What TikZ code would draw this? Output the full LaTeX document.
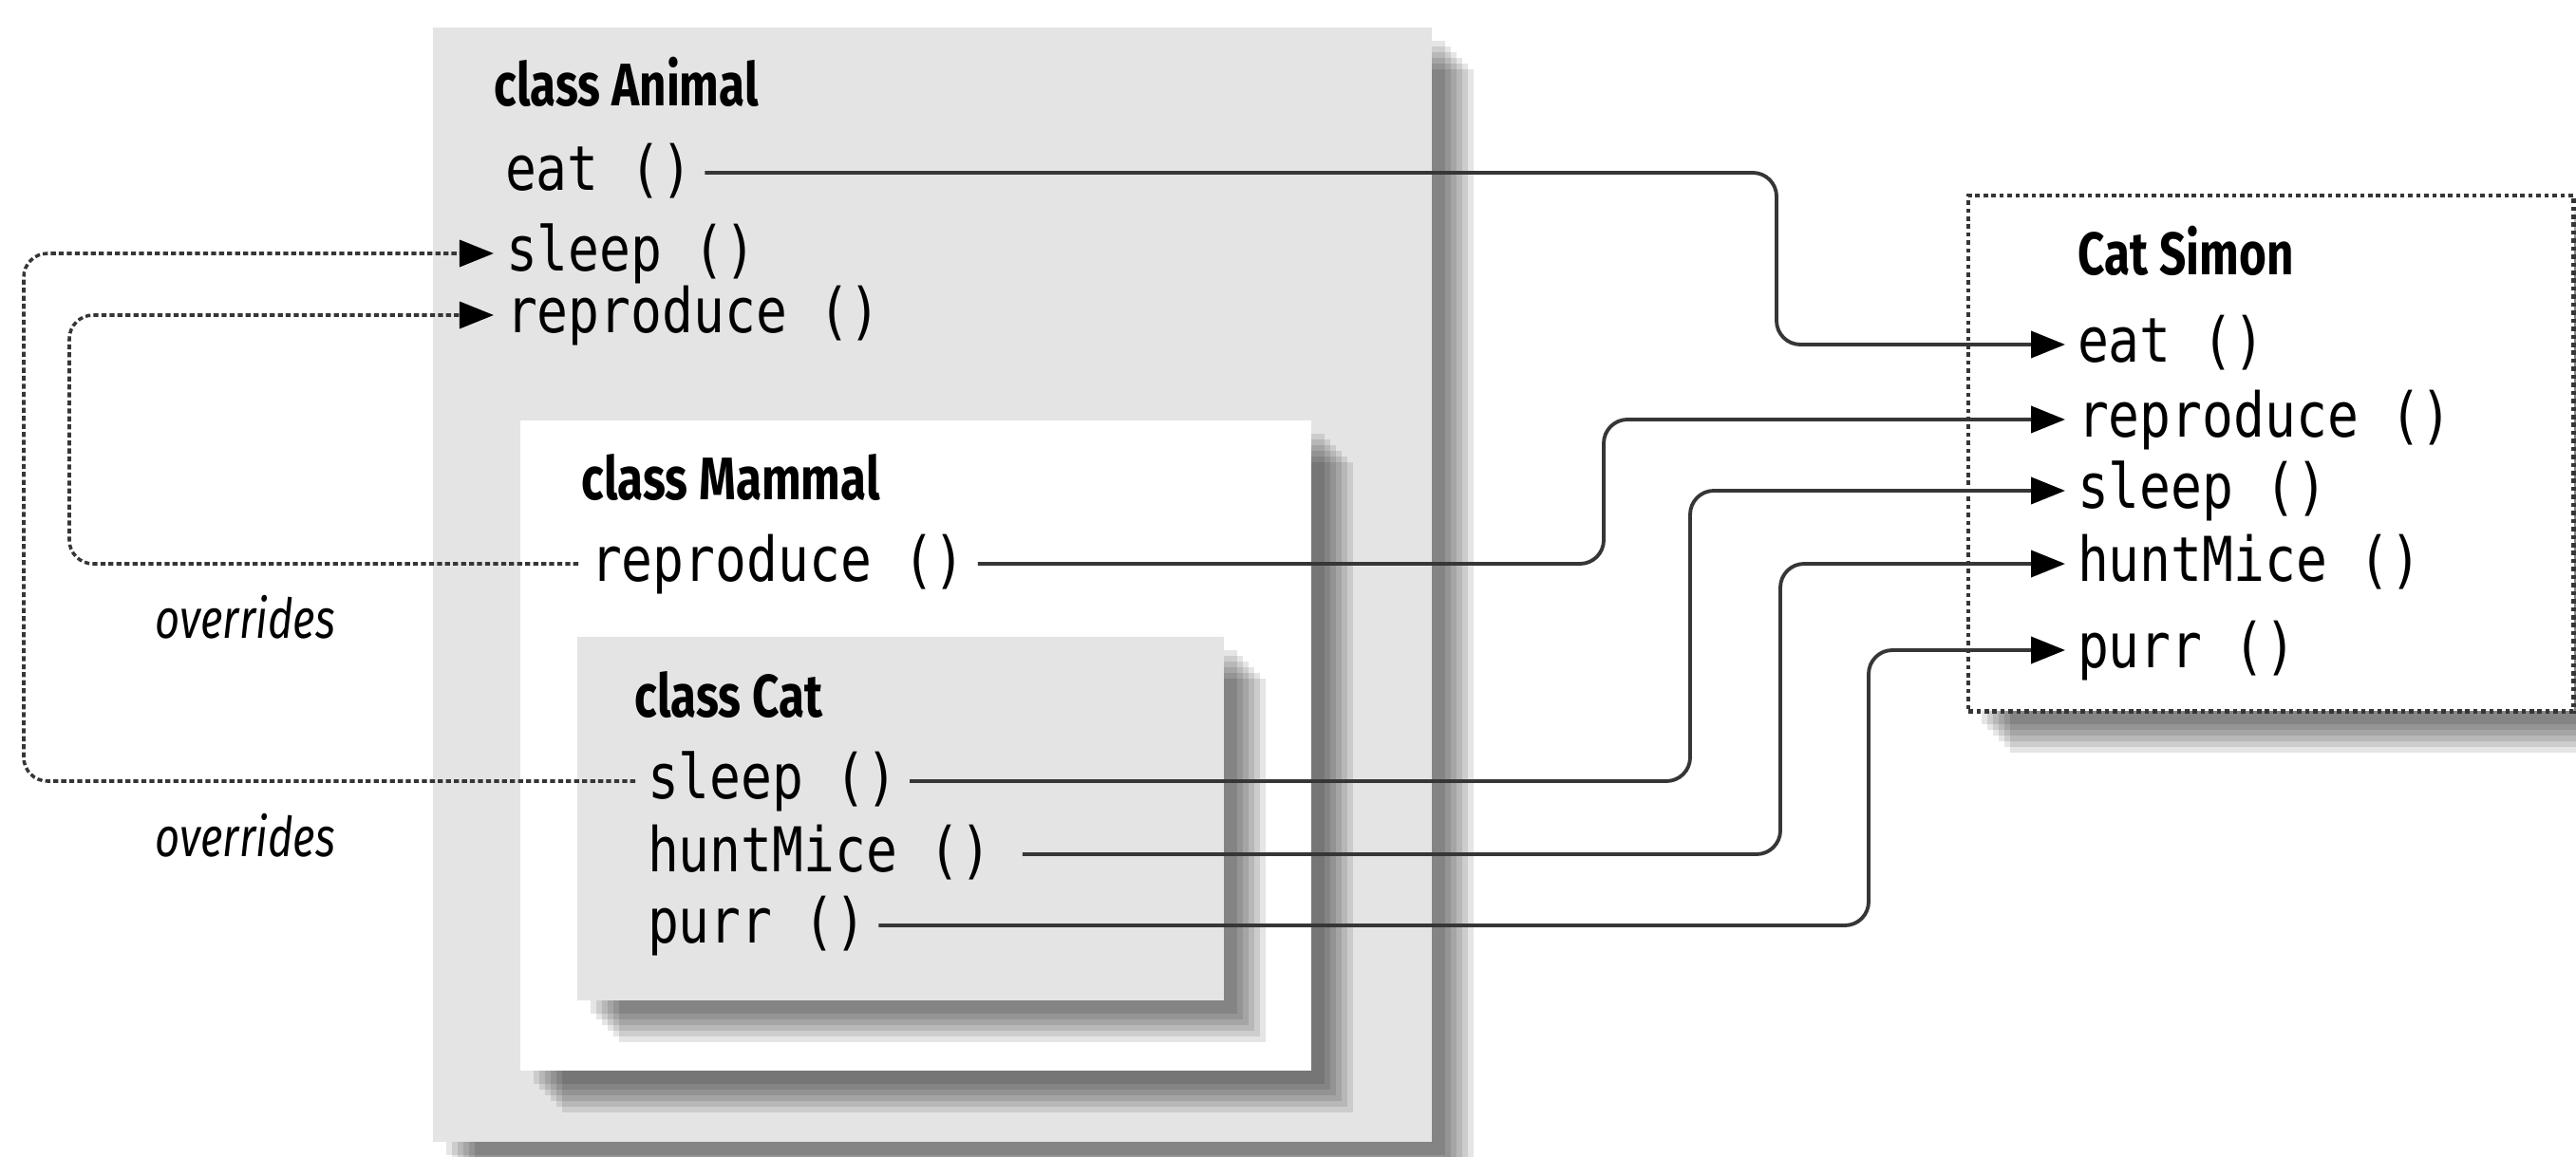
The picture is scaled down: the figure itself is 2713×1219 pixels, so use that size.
\documentclass[tikz,border=0pt]{standalone}
\usepackage{fontspec}
\usepackage{xcolor}
\usepackage{tikz}
\usetikzlibrary{shadows,arrows.meta}

\newfontfamily\headfont{Fira Sans}[FakeStretch=0.78]
\newfontfamily\codefont{DejaVu Sans Mono}[FakeStretch=0.84]

\definecolor{boxgray}{HTML}{E4E4E4}
\definecolor{linegray}{HTML}{363636}

\begin{document}
\begin{tikzpicture}[
				x=0.01cm, y=-0.01cm,
				softshadow/.style={
					drop shadow={shadow xshift=0.14cm, shadow yshift=-0.14cm, fill=black, opacity=0.1},
					drop shadow={shadow xshift=0.20cm, shadow yshift=-0.20cm, fill=black, opacity=0.1},
					drop shadow={shadow xshift=0.26cm, shadow yshift=-0.26cm, fill=black, opacity=0.1},
					drop shadow={shadow xshift=0.32cm, shadow yshift=-0.32cm, fill=black, opacity=0.1},
					drop shadow={shadow xshift=0.38cm, shadow yshift=-0.38cm, fill=black, opacity=0.1},
					drop shadow={shadow xshift=0.44cm, shadow yshift=-0.44cm, fill=black, opacity=0.1}
				},
				classbox/.style={
					rectangle,
					anchor=north west,
					inner sep=0pt,
					softshadow
				},
				head/.style={
					font=\headfont\bfseries\fontsize{18pt}{20pt}\selectfont,
					anchor=base west,
					inner sep=0pt
				},
				note/.style={
					font=\headfont\itshape\fontsize{16.5pt}{18pt}\selectfont,
					anchor=base west,
					inner sep=0pt
				},
				method/.style={
					font=\codefont\fontsize{18.5pt}{22pt}\selectfont,
					anchor=west,
					inner sep=0pt,
					outer sep=0.13cm,
					text height=0.36cm,
					text depth=0pt
				},
				link/.style={
					-{Triangle[length=0.36cm, width=0.28cm, color=black]},
					line width=1.1pt,
					draw=linegray,
					rounded corners=0.25cm
				},
				override/.style={
					link,
					line width=1pt,
					dash pattern=on 1.5pt off 0.9pt
				}
			]
			\path[use as bounding box, fill=white] (0,0) rectangle (2713,1219);

			% Boxes
			\node[classbox, fill=boxgray, minimum width=10.52cm, minimum height=11.74cm] (animal) at (455,28) {};
			\node[classbox, fill=white, minimum width=8.33cm, minimum height=6.85cm] (mammal) at (547,442) {};
			\node[classbox, fill=boxgray, minimum width=6.81cm, minimum height=3.83cm] (cat) at (607,670) {};
			\node[classbox, fill=white, draw=linegray, line width=1.2pt, dash pattern=on 1.3pt off 1.1pt, minimum width=6.37cm, minimum height=5.43cm] (simon) at (2071,204) {};

			% Headings
			\node[head] (animalhead) at (520,112) {class Animal};
			\node[head] (mammalhead) at (612,527) {class Mammal};
			\node[head] (cathead) at (668,755) {class Cat};
			\node[head] (simonhead) at (2188,290) {Cat Simon};

			% Methods
			\node[method] (animaleat) at (519,182) {eat ()};
			\node[method] (animalsleep) at (520,267) {sleep ()};
			\node[method] (animalrepro) at (520,332) {reproduce ()};
			\node[method] (mammalrepro) at (609,594) {reproduce ()};
			\node[method] (catsleep) at (669,823) {sleep ()};
			\node[method] (cathunt) at (669,900) {huntMice ()};
			\node[method] (catpurr) at (669,975) {purr ()};

			\node[method] (simoneat) at (2175,363) {eat ()};
			\node[method] (simonrepro) at (2175,442) {reproduce ()};
			\node[method] (simonsleep) at (2175,517) {sleep ()};
			\node[method] (simonhunt) at (2175,594) {huntMice ()};
			\node[method] (simonpurr) at (2175,685) {purr ()};

			\node[note] (note1) at (163,672) {overrides};
			\node[note] (note2) at (163,902) {overrides};

			% Connectors
			\draw[link] (animaleat.east) -- (1871,182) |- (simoneat.west);
			\draw[link] (mammalrepro.east) -- (1689,594) |- (simonrepro.west);
			\draw[link] (catsleep.east) -- (1780,823) |- (simonsleep.west);
			\draw[link] ([xshift=0.2cm]cathunt.east) -- (1875,900) |- (simonhunt.west);
			\draw[link] (catpurr.east) -- (1968,975) |- (simonpurr.west);
			\draw[override] (catsleep.west) -- (25,823) |- (animalsleep.west);
			\draw[override] (mammalrepro.west) -- (73,594) |- (animalrepro.west);
		\end{tikzpicture}
\end{document}
